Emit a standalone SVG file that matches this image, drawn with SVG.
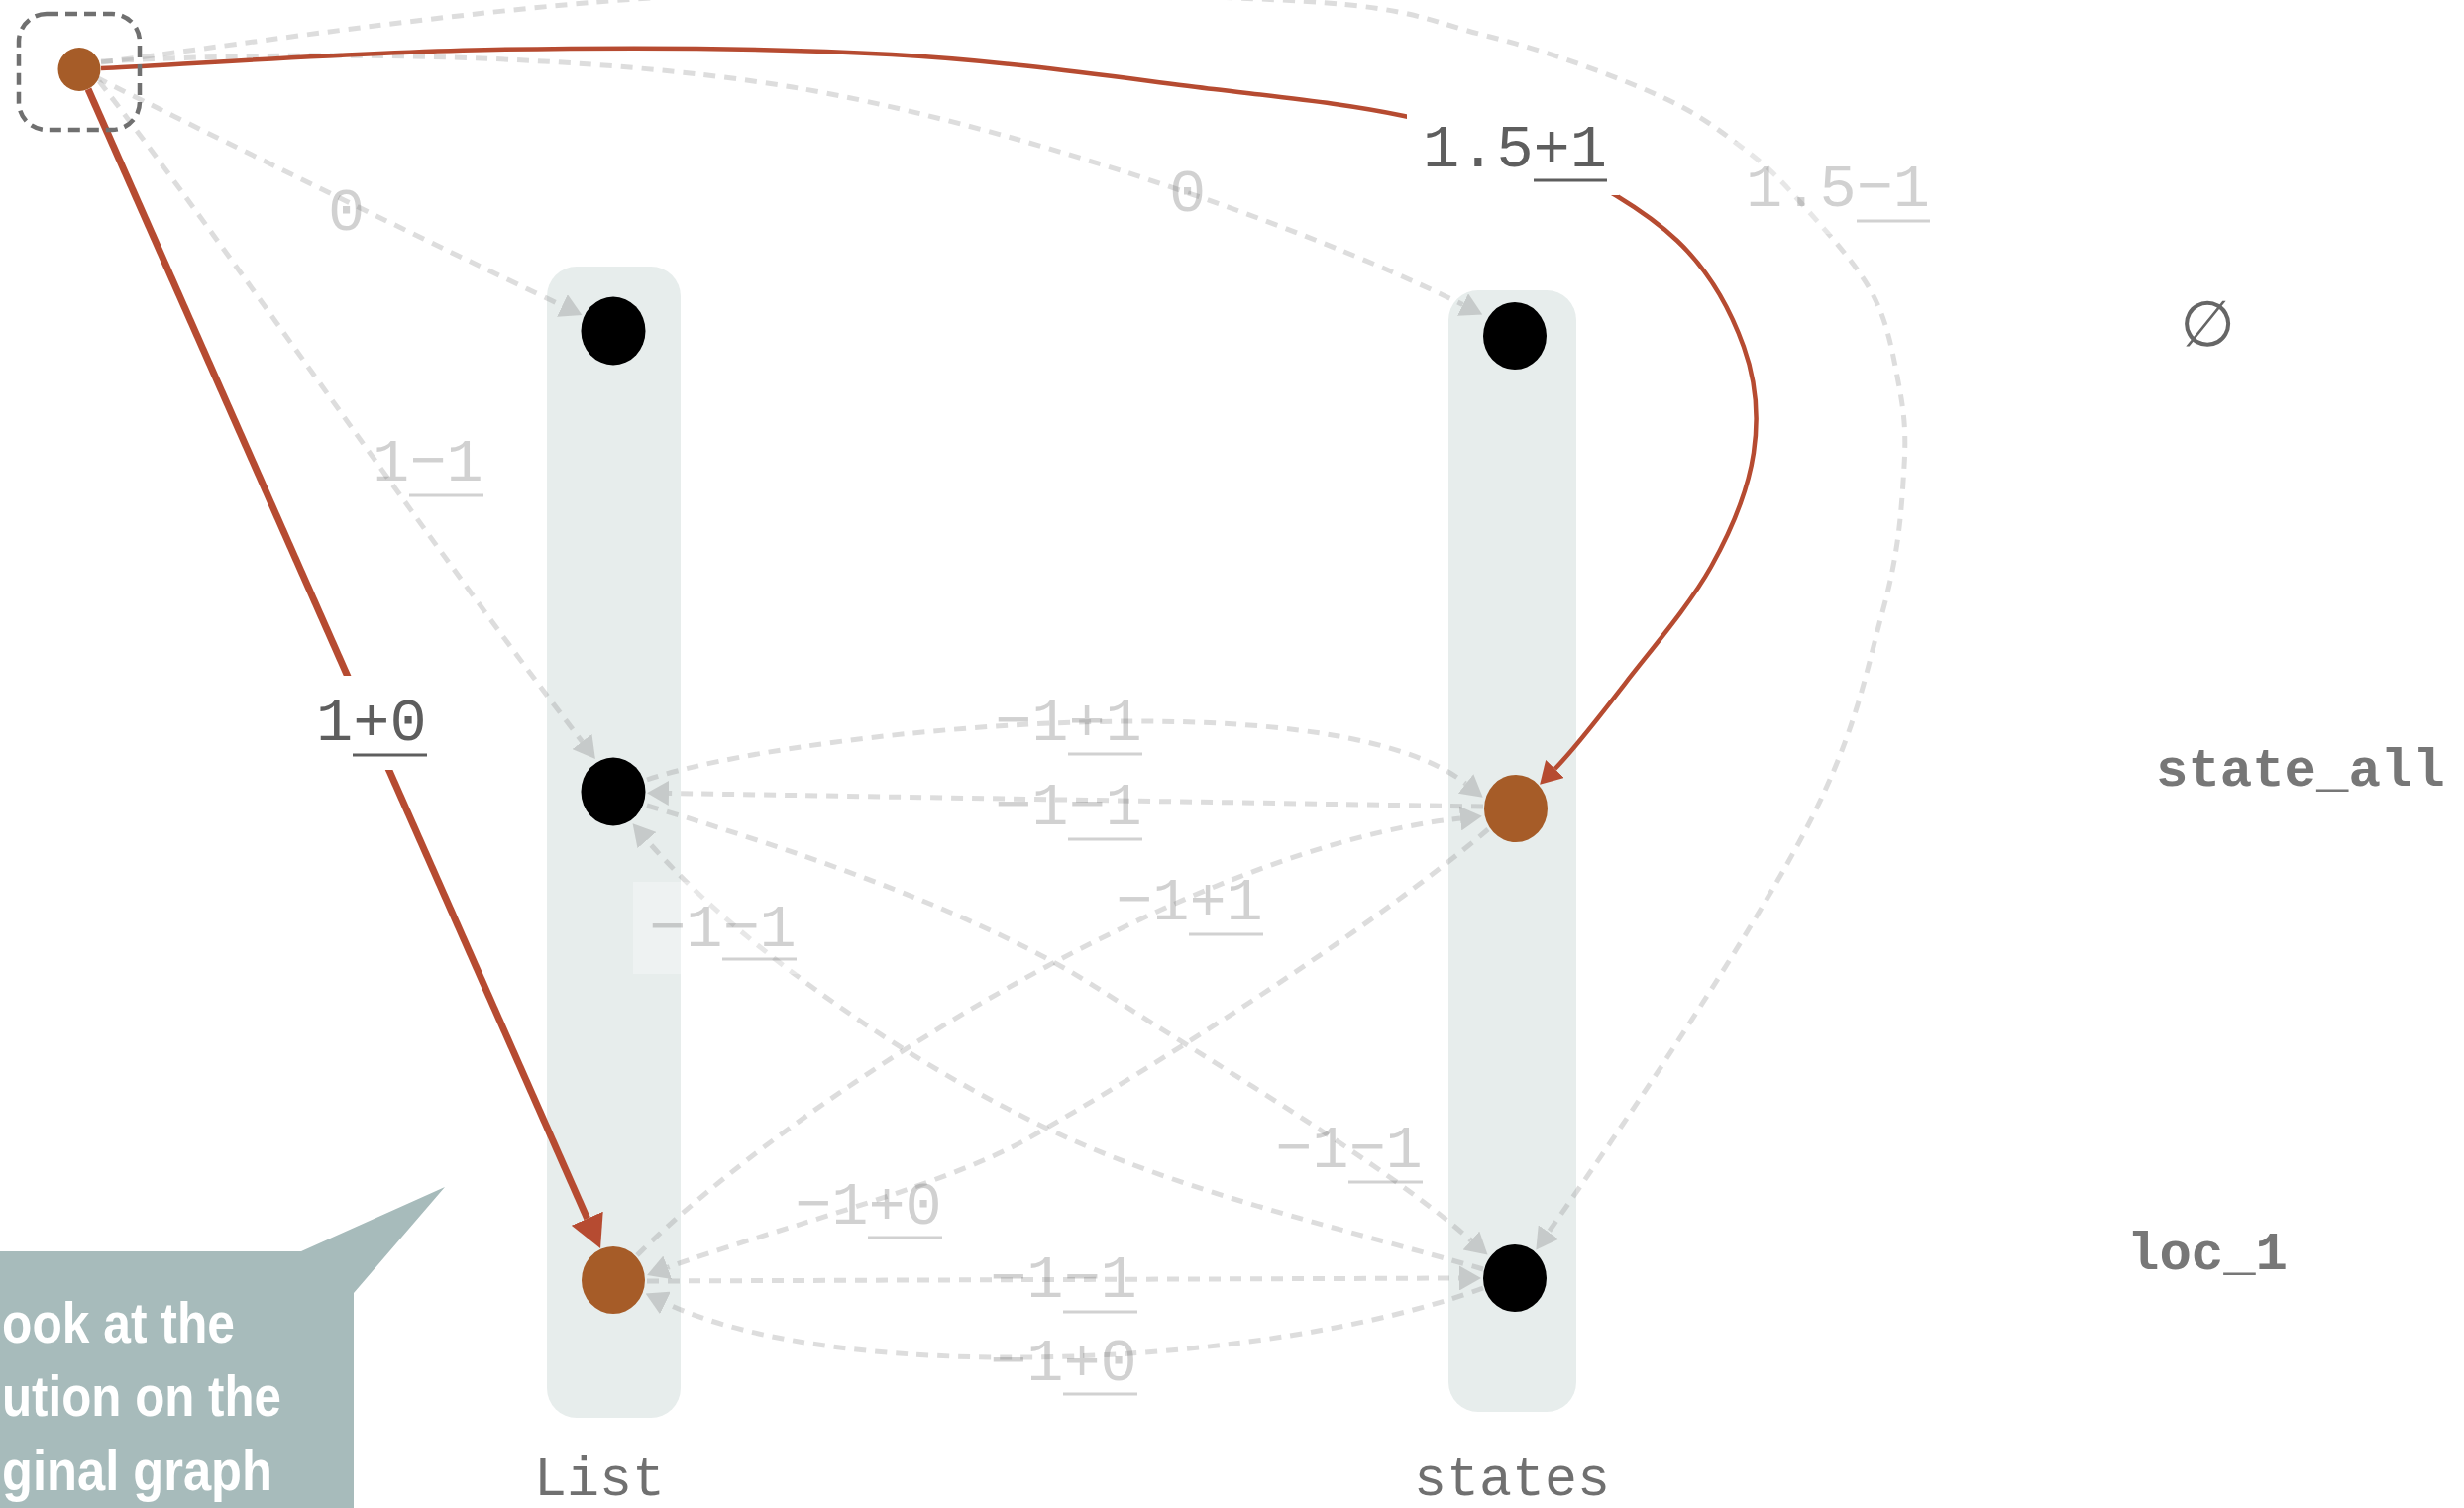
<svg xmlns="http://www.w3.org/2000/svg" width="2487" height="1522" viewBox="0 0 2487 1522">
<defs>
<style>
.col{fill:#e7edec}
.ge{fill:none;stroke:#8f8f8f;stroke-opacity:.3;stroke-width:5;stroke-dasharray:12 9}
.re{fill:none;stroke:#b64b31}
.lb{font-family:"Liberation Mono","DejaVu Sans Mono",monospace;font-size:62px}
.lg{fill:#666;fill-opacity:.3}
.lr{fill:#5e5e5e}
.ulg{stroke:#666;stroke-opacity:.3;stroke-width:3}
.ulr{stroke:#5e5e5e;stroke-width:3}
.bgg{fill:#fff;fill-opacity:.3}
.bgr{fill:#fff}
.nb{fill:#000}
.no{fill:#a65c28}
.cl{font-family:"Liberation Mono",monospace;font-size:55px;fill:#707070}
.sl{font-family:"Liberation Mono",monospace;font-size:54px;font-weight:bold;fill:#777}
.bt{font-family:"Liberation Sans Narrow","Liberation Sans",sans-serif;font-weight:bold;font-size:58px;fill:#fff}
</style>
<marker id="ag" viewBox="0 0 22 25" refX="0" refY="12.5" markerWidth="22" markerHeight="25" markerUnits="userSpaceOnUse" orient="auto"><path d="M0,0L22,12.5L0,25z" fill="#7a7a7a" fill-opacity=".3"/></marker>
<marker id="arb" viewBox="0 0 33 35" refX="0" refY="17.5" markerWidth="33" markerHeight="35" markerUnits="userSpaceOnUse" orient="auto"><path d="M0,0L33,17.5L0,35z" fill="#b64b31"/></marker>
<marker id="ars" viewBox="0 0 22 26" refX="0" refY="13" markerWidth="22" markerHeight="26" markerUnits="userSpaceOnUse" orient="auto"><path d="M0,0L22,13L0,26z" fill="#b64b31"/></marker>
</defs>
<rect width="2487" height="1522" fill="#fff"/>

<g id="clusters">
<rect id="cluster-List" class="col" x="552" y="269" width="135" height="1162" rx="30"/>
<rect id="cluster-states" class="col" x="1462" y="293" width="129" height="1132" rx="30"/>
</g>

<g id="connectors">
<g id="e-src-l1"><path class="ge" d="M97,78 C200,130 440,248 567.5,308.5" marker-end="url(#ag)"/><text class="lb lg" x="331" y="232">0</text></g>
<g id="e-src-l2"><path class="ge" d="M100,82 C230,250 420,530 587.5,748.5" marker-end="url(#ag)"/><text class="lb lg" x="376" y="485">1−1</text><line class="ulg" x1="413" y1="500" x2="488" y2="500"/></g>
<g id="e-src-s1"><path class="ge" d="M102,62 C330,50 600,55 800,88 C1000,121 1300,220 1476.5,307.6" marker-end="url(#ag)"/><text class="lb lg" x="1180" y="213">0</text></g>
<g id="e-src-s3"><path class="ge" d="M102,63 C198,51 491,6 690,-4 C888.5,-14.5 1158,-6.7 1293,0 C1428,6.7 1437,20.2 1500,36 C1563,51.8 1627.7,76 1671,95 C1714.3,114 1735.5,131.7 1760,150 C1784.5,168.3 1796.7,181.2 1818,205 C1839.3,228.8 1871.8,263.8 1888,293 C1904.2,322.2 1909.3,350.5 1915,380 C1920.7,409.5 1924.5,430.3 1922,470 C1919.5,509.7 1917.5,555 1900,618 C1882.5,681 1873.2,743.75 1817,848 C1760.8,952.25 1653.3,1114.8 1563,1243.5" marker-end="url(#ag)"/><rect class="bgg" x="1747" y="143" width="216" height="93"/><text class="lb lg" x="1762" y="208">1.5−1</text><line class="ulg" x1="1874" y1="223" x2="1948" y2="223"/></g>
<g id="e-l2-s2-arc"><path class="ge" d="M653,787 C790,740 1340,680 1479.5,791" marker-end="url(#ag)"/><text class="lb lg" x="1004" y="747">−1+1</text><line class="ulg" x1="1078" y1="761" x2="1153" y2="761"/></g>
<g id="e-s2-l2"><path class="ge" d="M1497,814 L675,800.5" marker-end="url(#ag)"/><text class="lb lg" x="1004" y="832">−1−1</text><line class="ulg" x1="1078" y1="847" x2="1153" y2="847"/></g>
<g id="e-l2-s3"><path class="ge" d="M653,813 C803,858 992,922 1112,1000 C1232,1078 1395,1172.8 1485,1252" marker-end="url(#ag)"/><text class="lb lg" x="1287" y="1178">−1−1</text><line class="ulg" x1="1361" y1="1193" x2="1436" y2="1193"/></g>
<g id="e-s3-l2"><path class="ge" d="M1497,1281 C1367,1243 1211,1208 1081,1150 C931,1083 750,960 653,848" marker-end="url(#ag)"/><rect class="bgg" x="639" y="890" width="179" height="93"/><text class="lb lg" x="655" y="955">−1−1</text><line class="ulg" x1="729" y1="968" x2="804" y2="968"/></g>
<g id="e-l3-s2"><path class="ge" d="M643,1267 C800,1110 1200,855 1474,826" marker-end="url(#ag)"/><text class="lb lg" x="1126" y="928">−1+1</text><line class="ulg" x1="1200" y1="943" x2="1275" y2="943"/></g>
<g id="e-s2-l3"><path class="ge" d="M1502,837 C1388,934.5 1166.5,1076.5 1036,1150 C949,1199 767.7,1244.3 673.7,1279.3" marker-end="url(#ag)"/><text class="lb lg" x="802" y="1235">−1+0</text><line class="ulg" x1="876" y1="1249" x2="951" y2="1249"/></g>
<g id="e-l3-s3"><path class="ge" d="M653,1293 L1473,1290" marker-end="url(#ag)"/><text class="lb lg" x="999" y="1309">−1−1</text><line class="ulg" x1="1073" y1="1324" x2="1148" y2="1324"/></g>
<g id="e-s3-l3"><path class="ge" d="M1497,1300 C1280,1380 850,1400 671.5,1315" marker-end="url(#ag)"/><text class="lb lg" x="999" y="1393">−1+0</text><line class="ulg" x1="1073" y1="1407" x2="1148" y2="1407"/></g>

<g id="e-src-l3"><path class="re" stroke-width="7" d="M89,90 L592.7,1229.8" marker-end="url(#arb)"/><rect class="bgr" x="304" y="682" width="146" height="95"/><text class="lb lr" x="319" y="747">1+0</text><line class="ulr" x1="356" y1="762" x2="431" y2="762"/></g>
<g id="e-src-s2"><path class="re" stroke-width="4.5" d="M102,69 C168,66 367,52.3 500,50 C633,47.7 779.2,48.3 900,55 C1020.8,61.7 1138.8,79.7 1225,90 C1311.2,100.3 1361.2,105.3 1417,117 C1472.8,128.7 1514,139 1560,160 C1606,181 1659.7,211.3 1693,243 C1726.3,274.7 1747.2,314.3 1760,350 C1772.8,385.7 1775.5,420 1770,457 C1764.5,494 1748.7,533.2 1727,572 C1705.3,610.8 1666.25,656 1640,690 C1613.75,724 1590.4,754.5 1569.5,776" marker-end="url(#ars)"/><rect class="bgr" x="1420" y="103" width="214" height="94"/><text class="lb lr" x="1436" y="168">1.5+1</text><line class="ulr" x1="1548" y1="182" x2="1622" y2="182"/></g>
</g>

<g id="node-src"><rect x="19" y="14" width="122" height="117" rx="28" fill="none" stroke="#707070" stroke-width="4.5" stroke-dasharray="12 7"/><ellipse class="no" cx="80" cy="70" rx="21.5" ry="22"/></g>
<g id="node-list1"><ellipse class="nb" cx="619" cy="334" rx="32.5" ry="34.5"/></g>
<g id="node-list2"><ellipse class="nb" cx="619" cy="799" rx="32.5" ry="34.5"/></g>
<g id="node-list3"><ellipse class="no" cx="619" cy="1292" rx="32" ry="34"/></g>
<g id="node-st1"><ellipse class="nb" cx="1529" cy="339" rx="32" ry="34"/></g>
<g id="node-st2"><ellipse class="no" cx="1530" cy="816" rx="32" ry="34"/></g>
<g id="node-st3"><ellipse class="nb" cx="1529" cy="1290" rx="32" ry="34"/></g>

<g id="labels">
<text class="cl" x="605" y="1509" text-anchor="middle">List</text>
<text class="cl" x="1526" y="1509" text-anchor="middle">states</text>
<text x="2228" y="349" text-anchor="middle" font-family="DejaVu Sans" font-size="64" fill="#666">∅</text>
<text class="sl" x="2176" y="793">state_all</text>
<text class="sl" x="2147" y="1281">loc_1</text>
</g>

<g id="callout">
<polygon points="0,1263 304,1263 449,1198 357,1305 357,1522 0,1522" fill="#a7bbbb"/>
<text class="bt" x="2" y="1355" textLength="235" lengthAdjust="spacingAndGlyphs">ook at the</text>
<text class="bt" x="2" y="1429" textLength="282" lengthAdjust="spacingAndGlyphs">ution on the</text>
<text class="bt" x="2" y="1504" textLength="273" lengthAdjust="spacingAndGlyphs">ginal graph</text>
</g>
</svg>
